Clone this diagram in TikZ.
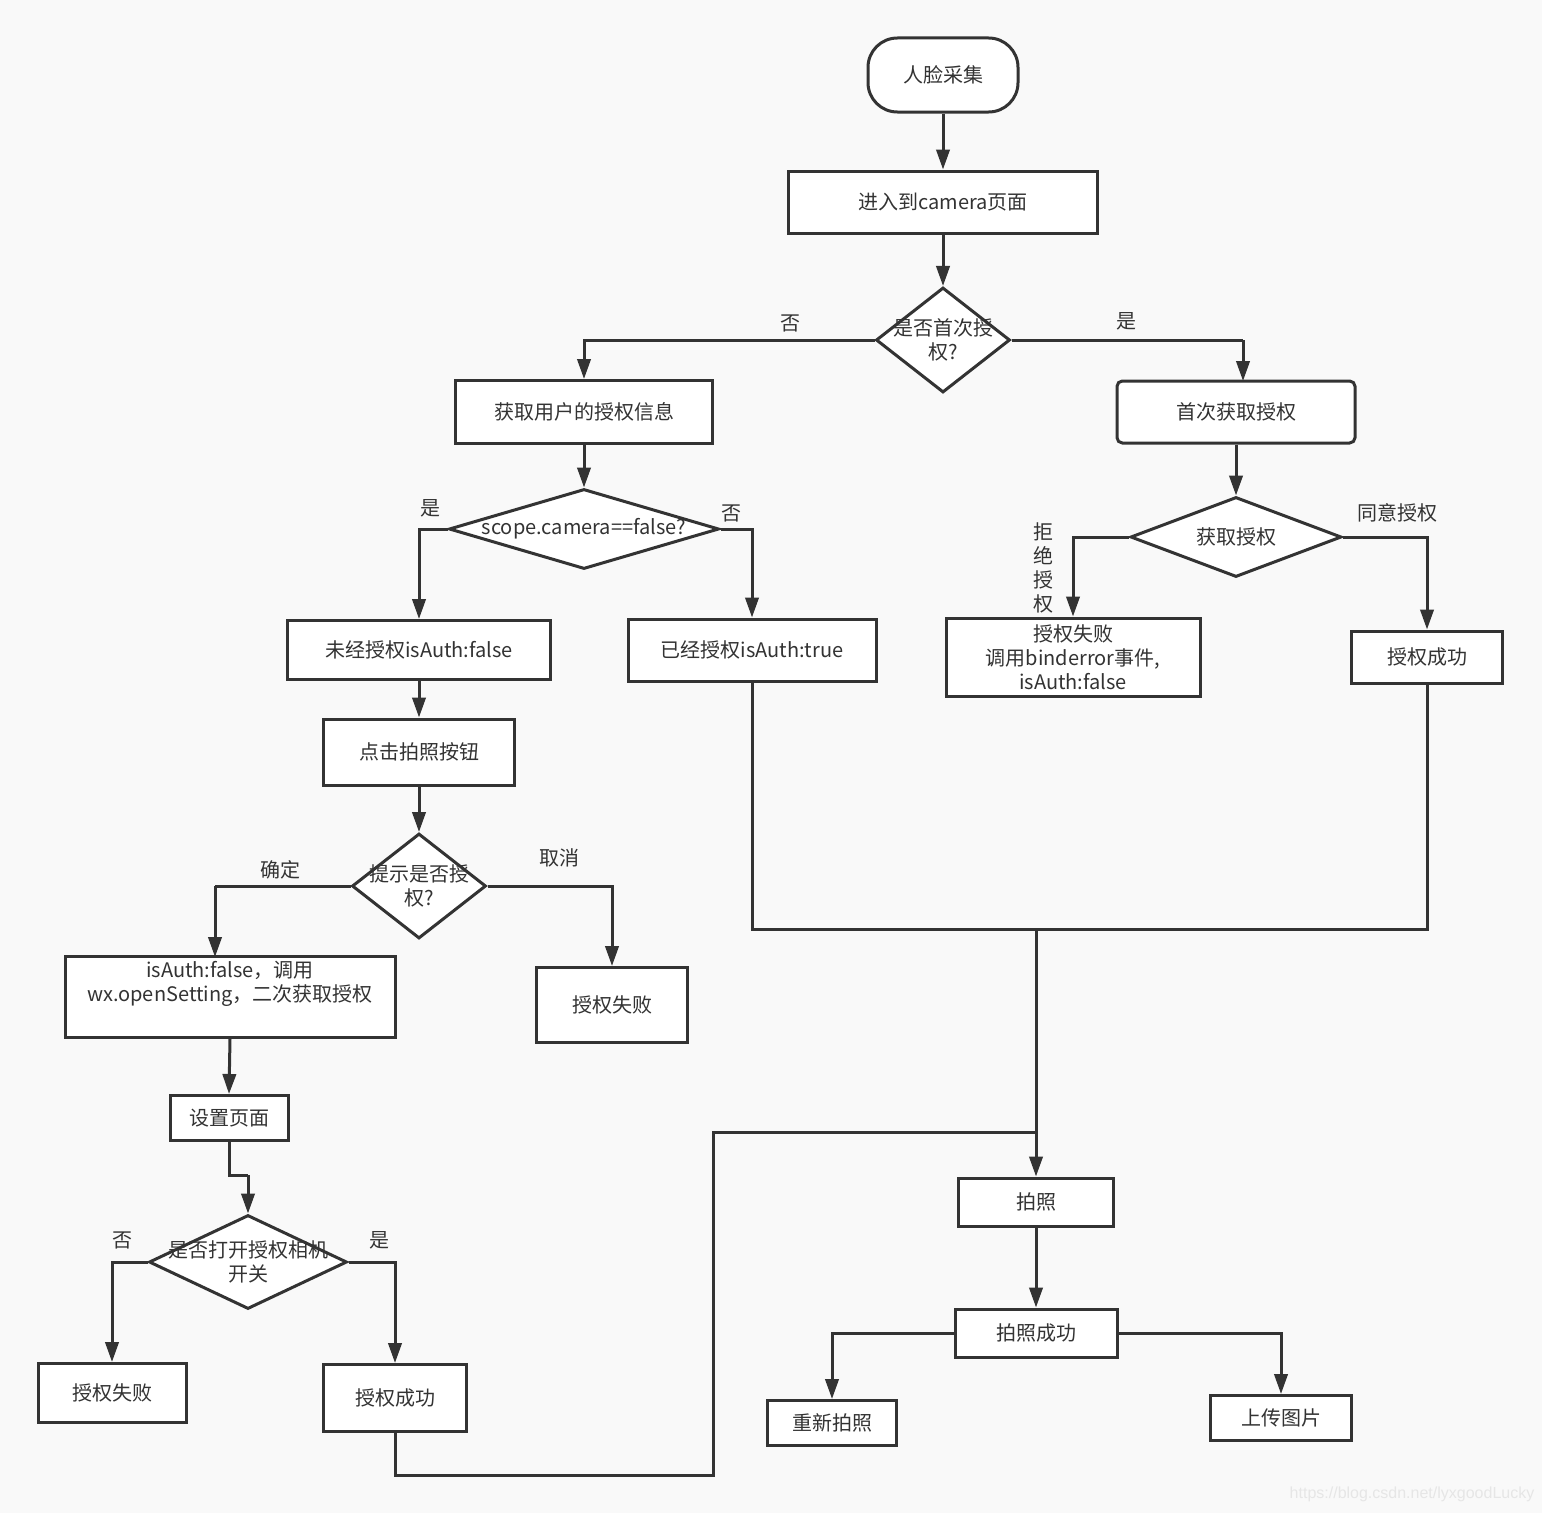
\documentclass[tikz,border=0pt]{standalone}
\usepackage{fontspec}
\setmainfont{Noto Sans CJK SC}
\newfontfamily\wmfont{Liberation Sans}
\usetikzlibrary{shapes.geometric,arrows.meta}
\definecolor{lc}{HTML}{333333}
\definecolor{bg}{HTML}{F9F9F9}
\definecolor{wm}{HTML}{E6E6E6}
\tikzset{
  base/.style={draw=lc, fill=white, line width=2.25pt, text=lc, inner sep=0pt, align=center,
    font=\fontsize{15pt}{18pt}\selectfont},
  box/.style 2 args={base, rectangle, minimum width=#1*0.75pt, minimum height=#2*0.75pt},
  dia/.style 2 args={base, diamond, minimum width=#1*0.75pt, minimum height=#2*0.75pt},
  lbl/.style={text=lc, font=\fontsize{15pt}{18pt}\selectfont, inner sep=0pt, align=center},
  ln/.style={draw=lc, line width=2.25pt},
  arr/.style={ln, -{Triangle[length=15pt,width=10pt]}},
}
\begin{document}
\begin{tikzpicture}[x=0.75pt,y=-0.75pt]
\fill[bg] (0,0) rectangle (1542,1513);
\useasboundingbox (0,0) rectangle (1542,1513);

% nodes
\node[box={150}{74}, rounded corners=22pt] (start) at (943,75) {人脸采集};
\node[box={309}{62}] (enter) at (943,202) {进入到camera页面};
\node[dia={134}{105}, label={[lbl]center:是否首次授\\权?}] (first) at (943,340) {};
\node[box={257}{63}] (getinfo) at (584,412) {获取用户的授权信息};
\node[box={238}{62}, rounded corners=4pt] (firstget) at (1236,412) {首次获取授权};
\node[dia={270}{80}, label={[lbl]center:scope.camera==false?}] (scope) at (584,529) {};
\node[box={263}{59}] (noauth) at (419,650) {未经授权isAuth:false};
\node[box={248}{62}] (hasauth) at (752,650) {已经授权isAuth:true};
\node[box={191}{66}] (click) at (419,752) {点击拍照按钮};
\node[dia={134}{105}, label={[lbl]center:提示是否授\\权?}] (prompt) at (419,886) {};
\node[box={330}{81}] (setting) at (230,997) {isAuth:false，调用\\wx.openSetting，二次获取授权\\\strut};
\node[box={151}{75}] (fail1) at (612,1005) {授权失败};
\node[box={118}{45}] (setpage) at (229,1118) {设置页面};
\node[dia={198}{94}, label={[lbl]center:是否打开授权相机\\开关}] (open) at (248,1262) {};
\node[box={148}{59}] (fail2) at (112,1393) {授权失败};
\node[box={143}{67}] (succ2) at (395,1398) {授权成功};
\node[dia={211}{80}, label={[lbl]center:获取授权}] (get) at (1236,537) {};
\node[box={254}{78}] (fail3) at (1073,657) {授权失败\\调用binderror事件,\\isAuth:false};
\node[box={151}{52}] (succ3) at (1427,657) {授权成功};
\node[box={155}{48}] (photo) at (1036,1202) {拍照};
\node[box={162}{48}] (photook) at (1036,1333) {拍照成功};
\node[box={129}{45}] (retake) at (832,1423) {重新拍照};
\node[box={141}{45}] (upload) at (1281,1418) {上传图片};

% labels
\node[lbl] (l1) at (790,323) {否};
\node[lbl] (l2) at (1126,321) {是};
\node[lbl] (l3) at (430,508) {是};
\node[lbl] (l4) at (731,513) {否};
\node[lbl] (l5) at (280,870) {确定};
\node[lbl] (l6) at (559,858) {取消};
\node[lbl] (l7) at (122,1240) {否};
\node[lbl] (l8) at (379,1240) {是};
\node[lbl] (l9) at (1043,568) {拒\\绝\\授\\权};
\node[lbl] (l10) at (1397,513) {同意授权};
\node[text=wm, font=\wmfont\fontsize{12pt}{14pt}\selectfont, inner sep=0pt] (wmk) at (1412,1494) {https://blog.csdn.net/lyxgoodLucky};

% coordinates
\coordinate (j) at (1036,929);
\coordinate (b1) at (395,1475);
\coordinate (b2) at (713,1475);
\coordinate (b3) at (713,1132);
\coordinate (b4) at (1036,1132);
\coordinate (s1) at (229,1175);
\coordinate (s2) at (248,1175);
\coordinate (f1) at (1243,340);
\coordinate (f2) at (1243,381);
\coordinate (p1) at (215,886);
\coordinate (p2) at (215,957);

% connectors
\draw[arr] (start) -- (enter);
\draw[arr] (enter) -- (first);
\draw[arr] (first.west) -| (getinfo.north);
\draw[ln] (first.east) -- (f1);
\draw[arr] (f1) -- (f2);
\draw[arr] (getinfo) -- (scope);
\draw[arr] (scope.west) -| (noauth.north);
\draw[arr] (scope.east) -| (hasauth.north);
\draw[arr] (noauth) -- (click);
\draw[arr] (click) -- (prompt);
\draw[ln] (prompt.west) -- (p1);
\draw[arr] (p1) -- (p2);
\draw[arr] (prompt.east) -| (fail1.north);
\draw[arr] (setting.south) -- (setpage.north);
\draw[ln] (setpage.south) -- (s1) -- (s2);
\draw[arr] (s2) -- (open.north);
\draw[arr] (open.west) -| (fail2.north);
\draw[arr] (open.east) -| (succ2.north);
\draw[arr] (firstget) -- (get);
\draw[arr] (get.west) -| (fail3.north);
\draw[arr] (get.east) -| (succ3.north);
\draw[ln] (hasauth.south) |- (j) -| (succ3.south);
\draw[arr] (j) -- (photo.north);
\draw[ln] (succ2.south) -- (b1) -- (b2) -- (b3) -- (b4);
\draw[arr] (photo) -- (photook);
\draw[arr] (photook.west) -| (retake.north);
\draw[arr] (photook.east) -| (upload.north);
\end{tikzpicture}
\end{document}
